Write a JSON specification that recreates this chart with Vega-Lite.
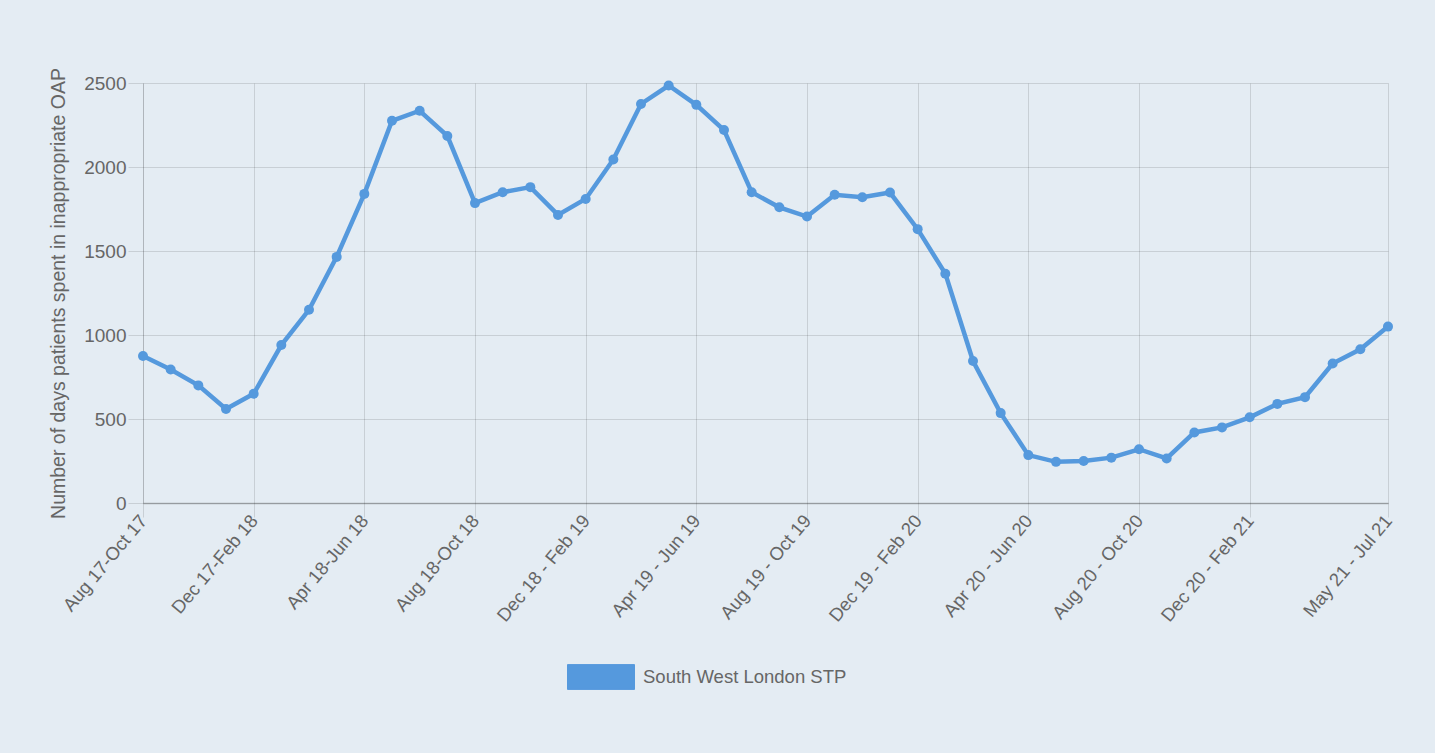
{
  "$schema": "https://vega.github.io/schema/vega-lite/v6.json",
  "width": 1245,
  "height": 420,
  "autosize": "none",
  "padding": {"left": 143, "top": 83, "right": 47, "bottom": 250},
  "background": "#e4ecf3",
  "config": {
    "view": {"stroke": null},
    "font": "Liberation Sans"
  },
  "data": {
    "values": [
      {"period": "Aug 17-Oct 17", "days": 875},
      {"period": "Sep 17-Nov 17", "days": 795},
      {"period": "Oct 17-Dec 17", "days": 700},
      {"period": "Nov 17-Jan 18", "days": 560},
      {"period": "Dec 17-Feb 18", "days": 650},
      {"period": "Jan 18-Mar 18", "days": 940},
      {"period": "Feb 18-Apr 18", "days": 1150},
      {"period": "Mar 18-May 18", "days": 1465},
      {"period": "Apr 18-Jun 18", "days": 1840},
      {"period": "May 18-Jul 18", "days": 2275},
      {"period": "Jun 18-Aug 18", "days": 2335},
      {"period": "Jul 18-Sep 18", "days": 2185},
      {"period": "Aug 18-Oct 18", "days": 1785},
      {"period": "Sep 18-Nov 18", "days": 1850},
      {"period": "Oct 18-Dec 18", "days": 1880},
      {"period": "Nov 18-Jan 19", "days": 1715},
      {"period": "Dec 18 - Feb 19", "days": 1810},
      {"period": "Jan 19 - Mar 19", "days": 2045},
      {"period": "Feb 19 - Apr 19", "days": 2375},
      {"period": "Mar 19 - May 19", "days": 2485},
      {"period": "Apr 19 - Jun 19", "days": 2370},
      {"period": "May 19 - Jul 19", "days": 2220},
      {"period": "Jun 19 - Aug 19", "days": 1850},
      {"period": "Jul 19 - Sep 19", "days": 1760},
      {"period": "Aug 19 - Oct 19", "days": 1705},
      {"period": "Sep 19 - Nov 19", "days": 1835},
      {"period": "Oct 19 - Dec 19", "days": 1820},
      {"period": "Nov 19 - Jan 20", "days": 1848},
      {"period": "Dec 19 - Feb 20", "days": 1630},
      {"period": "Jan 20 - Mar 20", "days": 1365},
      {"period": "Feb 20 - Apr 20", "days": 845},
      {"period": "Mar 20 - May 20", "days": 535},
      {"period": "Apr 20 - Jun 20", "days": 285},
      {"period": "May 20 - Jul 20", "days": 245},
      {"period": "Jun 20 - Aug 20", "days": 250},
      {"period": "Jul 20 - Sep 20", "days": 270},
      {"period": "Aug 20 - Oct 20", "days": 320},
      {"period": "Sep 20 - Nov 20", "days": 265},
      {"period": "Oct 20 - Dec 20", "days": 420},
      {"period": "Nov 20 - Jan 21", "days": 450},
      {"period": "Dec 20 - Feb 21", "days": 510},
      {"period": "Jan 21 - Mar 21", "days": 590},
      {"period": "Feb 21 - Apr 21", "days": 630},
      {"period": "Mar 21 - May 21", "days": 830},
      {"period": "Apr 21 - Jun 21", "days": 915},
      {"period": "May 21 - Jul 21", "days": 1050}
    ]
  },
  "mark": {
    "type": "line",
    "strokeWidth": 4.5,
    "point": {"filled": true, "size": 100}
  },
  "encoding": {
    "x": {
      "field": "period",
      "type": "ordinal",
      "sort": null,
      "scale": {"type": "point", "padding": 0},
      "axis": {
        "title": null,
        "values": ["Aug 17-Oct 17", "Dec 17-Feb 18", "Apr 18-Jun 18", "Aug 18-Oct 18", "Dec 18 - Feb 19", "Apr 19 - Jun 19", "Aug 19 - Oct 19", "Dec 19 - Feb 20", "Apr 20 - Jun 20", "Aug 20 - Oct 20", "Dec 20 - Feb 21", "May 21 - Jul 21"],
        "labelAngle": -50,
        "labelAlign": "right",
        "labelBaseline": "middle",
        "labelFontSize": 18.5,
        "labelColor": "#666666",
        "labelPadding": 0,
        "labelOverlap": false,
        "labelBound": false,
        "grid": true,
        "gridColor": "#000000",
        "gridOpacity": 0.12,
        "ticks": true,
        "tickColor": "#000000",
        "tickOpacity": 0.12,
        "tickSize": 14,
        "domainColor": "#000000",
        "domainOpacity": 0.25,
        "domainWidth": 1.5
      }
    },
    "y": {
      "field": "days",
      "type": "quantitative",
      "scale": {"domain": [0, 2500], "nice": false},
      "axis": {
        "title": "Number of days patients spent in inappropriate OAP",
        "titleFontSize": 19.5,
        "titleFontWeight": "normal",
        "titleColor": "#666666",
        "titlePadding": 15,
        "values": [0, 500, 1000, 1500, 2000, 2500],
        "format": "d",
        "labelFontSize": 19,
        "labelColor": "#666666",
        "labelPadding": 2,
        "grid": true,
        "gridColor": "#000000",
        "gridOpacity": 0.12,
        "tickColor": "#000000",
        "tickOpacity": 0.12,
        "tickSize": 15,
        "domainColor": "#000000",
        "domainOpacity": 0.12
      }
    },
    "color": {
      "datum": "South West London STP",
      "scale": {"range": ["#5599dd"]},
      "legend": {
        "title": null,
        "orient": "none",
        "legendX": 424,
        "legendY": 560,
        "padding": 0,
        "symbolType": "M-1,-0.37H1V0.37H-1Z",
        "symbolSize": 4489,
        "labelFontSize": 18.5,
        "labelColor": "#666666",
        "labelOffset": 8,
        "labelLimit": 0,
        "encode": {
          "symbols": {
            "update": {
              "fill": {"value": "#5599dd"},
              "stroke": {"value": "#5599dd"},
              "strokeWidth": {"value": 1},
              "opacity": {"value": 1}
            }
          }
        }
      }
    }
  }
}
